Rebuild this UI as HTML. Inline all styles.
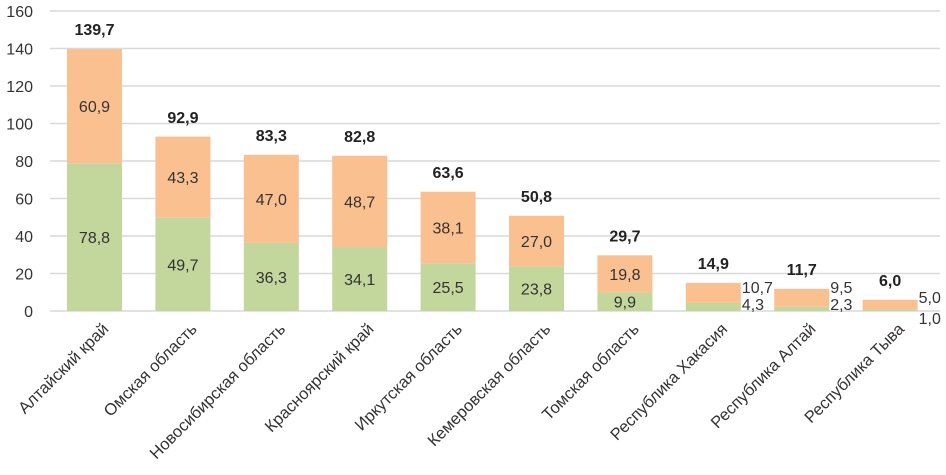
<!DOCTYPE html>
<html><head><meta charset="utf-8"><style>
html,body{margin:0;padding:0;background:#fff;}
svg{display:block;font-family:"Liberation Sans","DejaVu Sans",sans-serif;}
</style></head><body>
<svg id="chart" width="946" height="475" viewBox="0 0 946 475"></svg>
<script>
const categories=["Алтайский край","Омская область","Новосибирская область","Красноярский край","Иркутская область","Кемеровская область","Томская область","Республика Хакасия","Республика Алтай","Республика Тыва"];
const greenValues=[78.8,49.7,36.3,34.1,25.5,23.8,9.9,4.3,2.3,1.0];
const orangeValues=[60.9,43.3,47.0,48.7,38.1,27.0,19.8,10.7,9.5,5.0];
const totals=[139.7,92.9,83.3,82.8,63.6,50.8,29.7,14.9,11.7,6.0];
const yTicks=[0,20,40,60,80,100,120,140,160];
const NS="http://www.w3.org/2000/svg";
const svg=document.getElementById('chart');
const y0=311,yTop=11,yMax=160;
const y=v=>y0-(v/yMax)*(y0-yTop);
const x0=50,step=88.4,bw=55;
const xc=i=>94.5+i*step;
const fmt=v=>v.toFixed(1).replace('.',',');
function mk(tag,attrs,text){const e=document.createElementNS(NS,tag);for(const k in attrs)e.setAttribute(k,attrs[k]);if(text!==undefined)e.textContent=text;svg.appendChild(e);return e;}
yTicks.forEach(t=>{
  const g=mk('line',{x1:x0,x2:940,y1:y(t),y2:y(t),stroke:'#d9d9d9','stroke-width':1.5});
  
  
  const l=mk('text',{x:33,y:y(t)+6,'text-anchor':'end','font-size':16,fill:'#333'},String(t));
  
  
});
categories.forEach((c,i)=>{
  const cx=xc(i),g=greenValues[i],o=orangeValues[i];
  const rg=mk('rect',{x:cx-bw/2,y:y(g),width:bw,height:y0-y(g),fill:'#c3d69b'});
  
  
  const ro=mk('rect',{x:cx-bw/2,y:y(g+o),width:bw,height:y(g)-y(g+o),fill:'#fac090'});
  
  
  let lg,lo;
  if(totals[i]<20){
    const oy=Math.min(y(g+o)+10,g<2?y0-8:y0-18);
    lo=mk('text',{x:cx+bw/2+1,y:oy,'font-size':16,fill:'#333'},fmt(o));
    lg=mk('text',{x:cx+bw/2+1,y:g<2?y0+13:y0-1,'font-size':16,fill:'#333'},fmt(g));
  }else{
    lo=mk('text',{x:cx,y:(y(g)+y(g+o))/2+6,'text-anchor':'middle','font-size':16,fill:'#333'},fmt(o));
    lg=mk('text',{x:cx,y:(y0+y(g))/2+6,'text-anchor':'middle','font-size':16,fill:'#333'},fmt(g));
  }
  
  
  
  
  const lt=mk('text',{x:cx,y:y(totals[i])-14,'text-anchor':'middle','font-size':16,'font-weight':'bold',fill:'#222'},fmt(totals[i]));
  
  
  const cl=mk('text',{x:0,y:0,'text-anchor':'end','font-size':16.5,fill:'#333',transform:`translate(${cx+15},${330}) rotate(-45)`},c);
  
  
});
</script>
</body></html>
